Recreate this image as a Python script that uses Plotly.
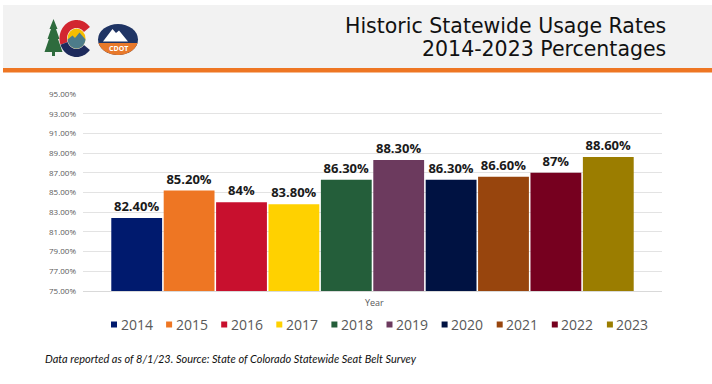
import math
import plotly.graph_objects as go

# ---------------- data ----------------
years = ["2014", "2015", "2016", "2017", "2018", "2019", "2020", "2021", "2022", "2023"]
rates = [82.4, 85.2, 84.0, 83.8, 86.3, 88.3, 86.3, 86.6, 87.0, 88.6]
labels = ["82.40%", "85.20%", "84%", "83.80%", "86.30%", "88.30%", "86.30%", "86.60%", "87%", "88.60%"]
colors = ["#001A6E", "#EE7623", "#C8102E", "#FFD100", "#245E3A",
          "#6C3A5E", "#001242", "#98450D", "#76001F", "#9B7D00"]
y_ticks = [75, 77, 79, 81, 83, 85, 87, 89, 91, 93, 95]
y_ticktext = [f"{v:.2f}%" for v in y_ticks]
title_lines = ["Historic Statewide Usage Rates", "2014-2023 Percentages"]
footnote = "Data reported as of 8/1/23. Source: State of Colorado Statewide Seat Belt Survey"

# ---------------- layout geometry (pixels) ----------------
FW, FH = 712, 384
L, R, T, B = 83, 662, 94, 291
W, H = R - L, B - T


def px(x):
    return (x - L) / W


def py(y):
    return (B - y) / H


def poly(pts):
    s = "M " + " L ".join(f"{px(x):.5f},{py(y):.5f}" for x, y in pts) + " Z"
    return s


def ell_pts(cx, cy, rx, ry, a0, a1, n=40):
    return [(cx + rx * math.cos(math.radians(a0 + (a1 - a0) * i / n)),
             cy - ry * math.sin(math.radians(a0 + (a1 - a0) * i / n))) for i in range(n + 1)]


def ring(cx, cy, rxo, ryo, rxi, ryi, a0, a1):
    return ell_pts(cx, cy, rxo, ryo, a0, a1) + ell_pts(cx, cy, rxi, ryi, a1, a0)


fig = go.Figure()
for yr, v, lab, c in zip(years, rates, labels, colors):
    fig.add_trace(go.Bar(
        x=[0], y=[v], name=yr, marker=dict(color=c, line=dict(width=0)),
        text=[lab], textposition="outside", cliponaxis=False,
        textfont=dict(family="Open Sans", size=13, color="#1a1a1a", weight=700),
        showlegend=False, hovertemplate=yr + ": " + lab + "<extra></extra>",
    ))

shapes = []
annotations = []

# header band + orange rule
shapes.append(dict(type="rect", xref="paper", yref="paper", x0=px(3), x1=px(712), y0=py(68), y1=py(5),
                   fillcolor="#F2F2F2", line=dict(width=0), layer="below"))
shapes.append(dict(type="rect", xref="paper", yref="paper", x0=px(3), x1=px(712), y0=py(72.5), y1=py(68),
                   fillcolor="#EE7623", line=dict(width=0), layer="below"))

# logo: tree
tree = [(53.5, 19), (57.5, 29), (56, 29), (59.5, 39), (58, 39), (62.5, 52), (55, 52), (55, 56),
        (52, 56), (52, 52), (44.5, 52), (49, 39), (47.5, 39), (51, 29), (49.5, 29)]
shapes.append(dict(type="path", xref="paper", yref="paper", path=poly(tree),
                   fillcolor="#2E6B3D", line=dict(width=0)))
# logo: C
cx, cy = 76.5, 38.5
shapes.append(dict(type="path", xref="paper", yref="paper",
                   path=poly(ring(cx, cy, 17, 18.5, 9.5, 10.5, 38, 200)),
                   fillcolor="#D22630", line=dict(width=0)))
shapes.append(dict(type="path", xref="paper", yref="paper",
                   path=poly(ring(cx, cy, 17, 18.5, 9.5, 10.5, 200, 322)),
                   fillcolor="#1D2A5C", line=dict(width=0)))
shapes.append(dict(type="circle", xref="paper", yref="paper",
                   x0=px(cx - 9), x1=px(cx + 9), y0=py(cy + 10), y1=py(cy - 10),
                   fillcolor="#F6BE00", line=dict(width=0)))
mtn = [(cx - 9, cy + 1), (cx - 4, cy - 3), (cx - 1.5, cy - 0.5), (cx + 3, cy - 6), (cx + 9, cy + 1)]
mtn += ell_pts(cx, cy, 9, 10, -6, -174)[1:]
shapes.append(dict(type="path", xref="paper", yref="paper", path=poly(mtn),
                   fillcolor="#4D7C8A", line=dict(width=0)))
# logo: CDOT badge
bx, by = 118, 39.5
shapes.append(dict(type="circle", xref="paper", yref="paper",
                   x0=px(bx - 20), x1=px(bx + 20), y0=py(by + 15.5), y1=py(by - 15.5),
                   fillcolor="#1F3464", line=dict(width=0)))
shapes.append(dict(type="path", xref="paper", yref="paper",
                   path=poly(ell_pts(bx, by, 20, 15.5, 193, 347)),
                   fillcolor="#E8792B", line=dict(width=0)))
shapes.append(dict(type="path", xref="paper", yref="paper",
                   path=poly([(103, 41.5), (112.5, 29), (116, 33), (119, 30.5), (128, 41.5)]),
                   fillcolor="#FFFFFF", line=dict(width=0)))
annotations.append(dict(xref="paper", yref="paper", x=px(bx), y=py(48.5), text="<b>CDOT</b>",
                        showarrow=False, font=dict(family="Open Sans", size=7, color="#FFFFFF"),
                        xanchor="center", yanchor="middle"))

# title
for line, yc in zip(title_lines, [26, 48.5]):
    annotations.append(dict(xref="paper", yref="paper", x=px(668), y=py(yc), text=line,
                            showarrow=False, xanchor="right", yanchor="middle",
                            font=dict(family="DejaVu Sans", size=20.5, color="#111111")))

# axis title
annotations.append(dict(xref="paper", yref="paper", x=px(374), y=py(302), text="Year",
                        showarrow=False, xanchor="center", yanchor="middle",
                        font=dict(family="Open Sans", size=9, color="#595959")))

# legend (built from the series arrays)
for k, (yr, c) in enumerate(zip(years, colors)):
    x0 = 111 + 55.1 * k
    shapes.append(dict(type="rect", xref="paper", yref="paper", x0=px(x0), x1=px(x0 + 6),
                       y0=py(327.5), y1=py(321.5), fillcolor=c, line=dict(width=0)))
    annotations.append(dict(xref="paper", yref="paper", x=px(x0 + 7.5), y=py(324), text=yr,
                            showarrow=False, xanchor="left", yanchor="middle",
                            font=dict(family="Open Sans", size=14, color="#595959")))

# footnote
annotations.append(dict(xref="paper", yref="paper", x=px(43), y=py(358), text=footnote,
                        showarrow=False, xanchor="left", yanchor="middle",
                        font=dict(family="Lato", size=11, color="#111111", style="italic")))

fig.update_layout(
    width=FW, height=FH, autosize=False,
    margin=dict(l=L, r=FW - R, t=T, b=FH - B, pad=0),
    paper_bgcolor="#FFFFFF", plot_bgcolor="#FFFFFF",
    barmode="group", bargap=0.095, bargroupgap=0.03,
    shapes=shapes, annotations=annotations,
    showlegend=False,
    xaxis=dict(range=[-0.5, 0.5], showticklabels=False, showgrid=False, zeroline=False,
               showline=True, linecolor="#D9D9D9", linewidth=1, ticks=""),
    yaxis=dict(range=[75, 95], tickvals=y_ticks, ticktext=y_ticktext,
               showgrid=True, gridcolor="#E3E3E3", gridwidth=1, zeroline=False,
               ticks="", ticklabelstandoff=6,
               tickfont=dict(family="Open Sans", size=8, color="#595959")),
    font=dict(family="Open Sans"),
)

fig.write_html("out.html", config={"displayModeBar": False},
               post_script="document.body.style.margin='0px';")
